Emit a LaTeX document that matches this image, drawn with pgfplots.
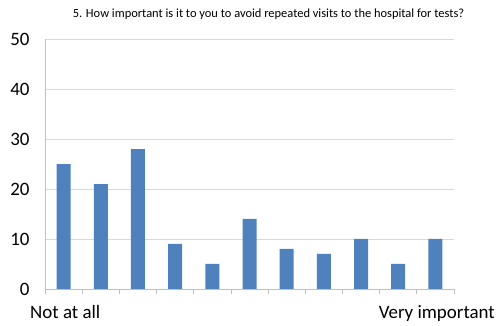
\documentclass[border=0pt]{standalone}
\usepackage{pgfplots}
\pgfplotsset{compat=1.18}
\usepackage{fontspec}
\setmainfont{Carlito}
\definecolor{barblue}{HTML}{4F81BD}
\definecolor{gridgray}{HTML}{D9D9D9}
\definecolor{axisgray}{HTML}{BFBFBF}
\begin{document}
\begin{tikzpicture}[x=1bp,y=1bp]
\begin{axis}[
  at={(45bp,37bp)}, anchor=south west,
  scale only axis, width=409bp, height=250bp,
  xmin=0, xmax=11, ymin=0, ymax=50,
  axis x line*=bottom, axis y line*=left,
  axis line style={axisgray, line width=0.8pt, -},
  xtick={0,...,11}, xticklabels={},
  x tick style={axisgray, line width=0.8pt},
  tick align=outside, major tick length=5bp,
  ytick={0,10,...,50}, y tick style={draw=none},
  ymajorgrids, grid style={gridgray, line width=0.8pt},
  yticklabel style={font=\fontsize{19}{19}\selectfont, black, xshift=-7bp},
  /pgf/number format/assume math mode=true,
  clip=false,
]
\addplot[ybar, bar width=14bp, fill=barblue, draw=none] coordinates {
  (0.5,25) (1.5,21) (2.5,28) (3.5,9) (4.5,5) (5.5,14)
  (6.5,8) (7.5,7) (8.5,10) (9.5,5) (10.5,10)
};
\end{axis}
\node[anchor=base, font=\fontsize{12.5}{12.5}\selectfont] at (268.5bp,308.5bp)
  {5. How important is it to you to avoid repeated visits to the hospital for tests?};
\node[anchor=base west, inner sep=0pt, font=\fontsize{19}{19}\selectfont] at (30bp,8bp) {Not at all};
\node[anchor=base east, inner sep=0pt, font=\fontsize{19}{19}\selectfont] at (495bp,8bp) {Very important};
\pgfresetboundingbox
\path (0,0) rectangle (497bp,326bp);
\end{tikzpicture}
\end{document}
